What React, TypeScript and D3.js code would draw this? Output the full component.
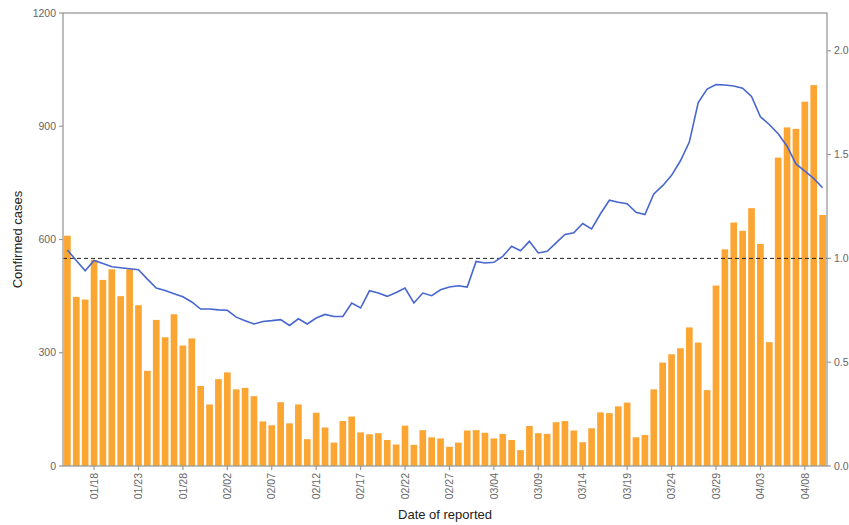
import React from "react";
import * as d3 from "d3";

const startDate = new Date(2021, 0, 15);

const cases = [
  610, 448, 441, 546, 493, 521, 450, 521, 426, 252,
  387, 341, 402, 319, 338, 212, 163, 230, 248, 203,
  207, 185, 118, 108, 169, 113, 163, 71, 141, 102,
  62, 119, 131, 89, 84, 87, 69, 57, 107, 56,
  95, 76, 73, 51, 62, 94, 95, 88, 73, 85,
  69, 42, 106, 87, 85, 116, 119, 94, 63, 100,
  142, 140, 158, 168, 76, 82, 203, 274, 296, 312,
  367, 327, 201, 478, 574, 645, 623, 683, 588, 328,
  817, 897, 893, 965, 1009, 665,
];

const rt = [
  1.04, 0.99, 0.94, 0.99, 0.975, 0.96, 0.955, 0.95, 0.945, 0.9,
  0.857, 0.845, 0.83, 0.815, 0.79, 0.756, 0.756, 0.752, 0.75, 0.717,
  0.7, 0.684, 0.696, 0.7, 0.705, 0.677, 0.709, 0.684, 0.713, 0.73,
  0.72, 0.72, 0.785, 0.761, 0.844, 0.833, 0.817, 0.836, 0.857, 0.785,
  0.833, 0.82, 0.849, 0.862, 0.868, 0.862, 0.985, 0.978, 0.981, 1.01,
  1.058, 1.037, 1.082, 1.026, 1.034, 1.075, 1.115, 1.123, 1.168, 1.142,
  1.215, 1.28, 1.27, 1.263, 1.222, 1.211, 1.31, 1.35, 1.4, 1.47,
  1.56, 1.75, 1.815, 1.837, 1.835, 1.83, 1.82, 1.78, 1.682, 1.645,
  1.6, 1.54, 1.455, 1.42, 1.385, 1.34,
];

const tickLabels = [
  "01/18", "01/23", "01/28", "02/02", "02/07", "02/12", "02/17", "02/22",
  "02/27", "03/04", "03/09", "03/14", "03/19", "03/24", "03/29", "04/03", "04/08",
];
const leftTicks = [0, 300, 600, 900, 1200];
const rightTicks = [0, 0.5, 1, 1.5, 2];
const scaleFactor = 550;
const threshold = 1;

export default function App() {
  const W = 849;
  const H = 525;
  const L = 63, R = 827, T = 13, B = 466;
  const fmt = d3.timeFormat("%m/%d");
  const dates = cases.map((_, i) => fmt(d3.timeDay.offset(startDate, i)));

  const x = d3.scaleBand<string>().domain(dates).range([L, R]).paddingInner(0.25).paddingOuter(0.12);
  const y = d3.scaleLinear().domain([0, 1200]).range([B, T]);
  const yR = d3.scaleLinear().domain([0, 1200 / scaleFactor]).range([B, T]);
  const bw = x.bandwidth();
  const cx = (d: string) => (x(d) as number) + bw / 2;

  const line = d3
    .line<number>()
    .x((_, i) => cx(dates[i]))
    .y((v) => yR(v))
    .curve(d3.curveLinear);

  const font = "'Liberation Sans', Arial, sans-serif";
  const tickColor = "#666";
  const frame = "#9a9a9a";

  return (
    <svg
      width={W}
      height={H}
      style={{ position: "absolute", left: 0, top: 0, background: "#fff" }}
      fontFamily={font}
    >
      <rect x={0} y={0} width={W} height={H} fill="#fff" />
      {cases.map((v, i) => (
        <rect
          key={i}
          x={x(dates[i])}
          y={y(v)}
          width={bw}
          height={B - y(v)}
          fill="#FBA533"
        />
      ))}
      <line
        x1={L}
        x2={R}
        y1={yR(threshold)}
        y2={yR(threshold)}
        stroke="#222"
        strokeWidth={1}
        strokeDasharray="4,3"
      />
      <path d={line(rt) || ""} fill="none" stroke="#4766CF" strokeWidth={1.6} />
      <rect x={L} y={T} width={R - L} height={B - T} fill="none" stroke={frame} strokeWidth={1.3} />
      {leftTicks.map((t) => (
        <g key={"l" + t}>
          <line x1={L - 4} x2={L} y1={y(t)} y2={y(t)} stroke={frame} strokeWidth={1.2} />
          <text x={L - 7} y={y(t)} dy="0.35em" textAnchor="end" fontSize={10.5} fill={tickColor}>
            {t}
          </text>
        </g>
      ))}
      {rightTicks.map((t) => (
        <g key={"r" + t}>
          <line x1={R} x2={R + 4} y1={yR(t)} y2={yR(t)} stroke={frame} strokeWidth={1.2} />
          <text x={R + 7} y={yR(t)} dy="0.35em" textAnchor="start" fontSize={10.5} fill={tickColor}>
            {t.toFixed(1)}
          </text>
        </g>
      ))}
      {tickLabels.map((lab) => (
        <g key={lab}>
          <line x1={cx(lab)} x2={cx(lab)} y1={B} y2={B + 4} stroke={frame} strokeWidth={1.2} />
          <text
            transform={`translate(${cx(lab)},${B + 7}) rotate(-90)`}
            textAnchor="end"
            dy="0.35em"
            fontSize={10.5}
            fill={tickColor}
          >
            {lab}
          </text>
        </g>
      ))}
      <text x={(L + R) / 2} y={519} textAnchor="middle" fontSize={13} fill="#222">
        Date of reported
      </text>
      <text
        transform={`translate(22,${(T + B) / 2}) rotate(-90)`}
        textAnchor="middle"
        fontSize={13}
        fill="#222"
      >
        Confirmed cases
      </text>
    </svg>
  );
}
